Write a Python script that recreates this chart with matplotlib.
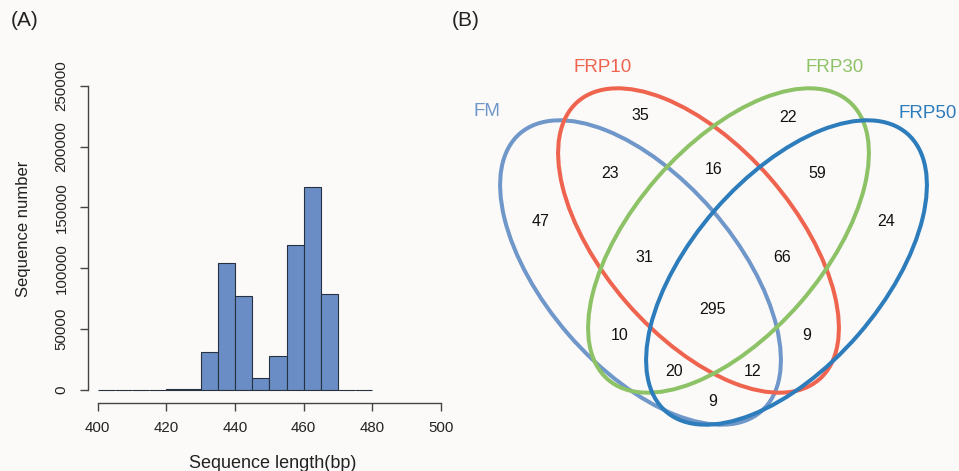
#!/usr/bin/env python3
"""Panel A: sequence length histogram, panel B: four-set Venn diagram."""

import matplotlib
matplotlib.use("Agg")
import matplotlib.pyplot as plt
from matplotlib.patches import Ellipse
import numpy as np

plt.rcParams["font.family"] = ["Liberation Sans", "DejaVu Sans"]

# ---- panel A data: 5 bp bins from 400 to 480 ----
BIN_EDGES = list(range(400, 485, 5))
BIN_COUNTS = [0, 0, 0, 0, 500, 1000, 31000, 104700, 77500,
              9600, 28000, 119200, 166400, 79000, 0, 0]
X_TICKS = [400, 420, 440, 460, 480, 500]
Y_TICKS = [0, 50000, 100000, 150000, 200000, 250000]

# ---- panel B data ----
SET_NAMES = ["FM", "FRP10", "FRP30", "FRP50"]
SET_COLORS = ["#7097c9", "#ef644f", "#8dc267", "#2d7cbb"]
REGION_COUNTS = [35, 22, 23, 16, 59, 47, 24, 31, 66, 295, 10, 9, 20, 12, 9]

BG = "#fcfaf9"
W, H = 959, 471

fig = plt.figure(figsize=(W / 100, H / 100), dpi=100, facecolor=BG)


def px_axes(left, top, right, bottom):
    return fig.add_axes([left / W, 1 - bottom / H, (right - left) / W, (bottom - top) / H])


# ---------------- panel A ----------------
# pixel mapping measured from the reference
x0_px, x_scale = 97.7, 3.433          # px of x=400, px per bp
y0_px, y_scale = 390.0, 304.3 / 250000  # px of y=0, px per count
ax_l, ax_r, ax_t, ax_b = 60, 450, 70, 410

ax = px_axes(ax_l, ax_t, ax_r, ax_b)
ax.set_facecolor("none")
ax.set_xlim(400 + (ax_l - x0_px) / x_scale, 400 + (ax_r - x0_px) / x_scale)
ax.set_ylim((y0_px - ax_b) / y_scale, (y0_px - ax_t) / y_scale)

edges = np.array(BIN_EDGES)
ax.bar(edges[:-1], BIN_COUNTS, width=np.diff(edges), align="edge",
       color="#6a8dc5", edgecolor="#263241", linewidth=0.8)

for side in ["top", "right"]:
    ax.spines[side].set_visible(False)
ax.spines["left"].set_position(("data", 400 + (88 - x0_px) / x_scale))
ax.spines["left"].set_bounds(0, 250000)
ax.spines["bottom"].set_position(("data", (y0_px - 403.3) / y_scale))
ax.spines["bottom"].set_bounds(400, 500)
for side in ["left", "bottom"]:
    ax.spines[side].set_color("#444444")
    ax.spines[side].set_linewidth(1.0)

ax.set_xticks(X_TICKS)
ax.set_yticks(Y_TICKS)
ax.set_yticklabels([str(v) for v in Y_TICKS], rotation=90, va="center")
ax.tick_params(axis="both", direction="out", length=6, width=1.0,
               color="#444444", labelsize=10.8, labelcolor="#222222")
ax.tick_params(axis="x", pad=7)
ax.tick_params(axis="y", pad=8)
ax.set_xlabel("Sequence length(bp)", fontsize=13, color="#222222")
ax.set_ylabel("Sequence number", fontsize=12, color="#222222")
ax.xaxis.set_label_coords((273 - ax_l) / (ax_r - ax_l), (ax_b - 455) / (ax_b - ax_t))
ax.yaxis.set_label_coords((31 - ax_l) / (ax_r - ax_l), (ax_b - 229) / (ax_b - ax_t))

fig.text(25 / W, 1 - 20 / H, "(A)", fontsize=15, ha="center", va="center", color="#222222")
fig.text(466 / W, 1 - 20 / H, "(B)", fontsize=15, ha="center", va="center", color="#222222")

# ---------------- panel B ----------------
vx = px_axes(440, 0, W, H)
vx.set_xlim(440, W)
vx.set_ylim(H, 0)
vx.axis("off")

centers = [(640.5, 272.5), (698.5, 240.5), (728.5, 240.5), (786.5, 272.5)]
angles = [49, 49, -49, -49]
for (cx, cy), ang, col in zip(centers, angles, SET_COLORS):
    vx.add_patch(Ellipse((cx, cy), 2 * 184, 2 * 95, angle=ang,
                         fill=False, edgecolor=col, linewidth=2.9))

label_pos = [(487, 112), (603, 68), (835, 68), (928, 113)]
for (lx, ly), name, col in zip(label_pos, SET_NAMES, SET_COLORS):
    vx.text(lx, ly, name, color=col, fontsize=13.5, ha="center", va="center")

count_pos = [(640, 116), (788, 117), (610, 173), (714, 169), (817, 173),
             (541, 222), (886, 222), (644, 257), (782, 257), (713, 309),
             (620, 336), (807, 336), (674, 371), (753, 371), (713, 402)]
for (tx, ty), n in zip(count_pos, REGION_COUNTS):
    vx.text(tx, ty, str(n), fontsize=11.5, ha="center", va="center", color="#111111")

fig.savefig("out.png", dpi=100, facecolor=BG)
